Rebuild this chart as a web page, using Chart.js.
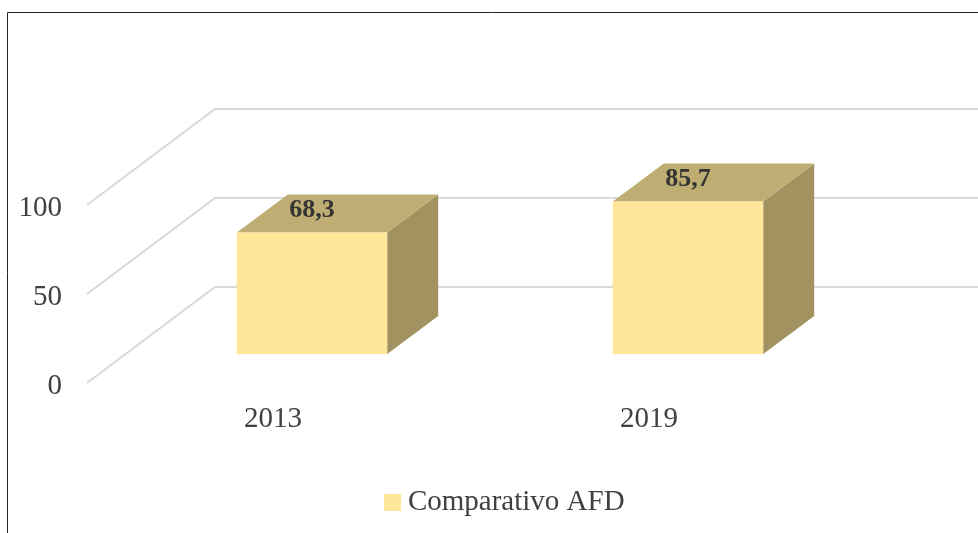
<!DOCTYPE html>
<html>
<head>
<meta charset="utf-8">
<style>
  html, body { margin: 0; padding: 0; background: #fff; overflow: hidden; }
  #wrap { position: absolute; left: 0; top: 0; width: 978px; height: 533px; }
</style>
<script src="https://cdn.jsdelivr.net/npm/chart.js@4/dist/chart.umd.min.js"></script>
</head>
<body>
<div id="wrap"><canvas id="chart" width="978" height="533"></canvas></div>
<script>
const categories = ["2013", "2019"];
const seriesName = "Comparativo AFD";
const afdValues = [68.3, 85.7];
const gridValues = [0, 50, 100];

const FONT = '"Liberation Serif", "Times New Roman", serif';
const FRONT = "#FFE699";
const TOP = "#BFAE73";
const SIDE = "#A2925F";
const GRID = "#D9D9D9";

// depth of the fake 3D box, and of the floor in front of the bars
const barDx = 51, barDy = -38;
const frontDx = -37, frontDy = 29;
const backDx = 91, backDy = -67;

// legend swatch as an image, so the gap to the text can be tight like the picture
const swatch = document.createElement("canvas");
swatch.width = 17;
swatch.height = 17;
const swatchCtx = swatch.getContext("2d");
swatchCtx.fillStyle = FRONT;
swatchCtx.fillRect(0, 0, 17, 17);

const threeD = {
  id: "threeD",
  afterLayout(chart) {
    // the legend is not centred on the canvas in the picture
    const legend = chart.legend;
    legend.left = 39;
    legend.right = 978;
    legend.top = 479.5;
  },
  beforeDatasetsDraw(chart) {
    const { ctx, scales: { y } } = chart;
    ctx.save();
    ctx.strokeStyle = GRID;
    ctx.lineWidth = 2;
    gridValues.forEach(v => {
      const py = y.getPixelForValue(v);
      const x0 = chart.chartArea.left;
      ctx.beginPath();
      ctx.moveTo(x0 + frontDx, py + frontDy);
      ctx.lineTo(x0 + backDx, py + backDy);
      ctx.lineTo(chart.width, py + backDy);
      ctx.stroke();
    });
    // side and top faces
    chart.getDatasetMeta(0).data.forEach(bar => {
      const l = bar.x - bar.width / 2, r = bar.x + bar.width / 2;
      ctx.fillStyle = SIDE;
      ctx.beginPath();
      ctx.moveTo(r, bar.y);
      ctx.lineTo(r + barDx, bar.y + barDy);
      ctx.lineTo(r + barDx, bar.base + barDy);
      ctx.lineTo(r, bar.base);
      ctx.closePath();
      ctx.fill();
      ctx.fillStyle = TOP;
      ctx.beginPath();
      ctx.moveTo(l, bar.y);
      ctx.lineTo(l + barDx, bar.y + barDy);
      ctx.lineTo(r + barDx, bar.y + barDy);
      ctx.lineTo(r, bar.y);
      ctx.closePath();
      ctx.fill();
    });
    ctx.restore();
  },
  afterDatasetsDraw(chart) {
    const { ctx } = chart;
    ctx.save();
    ctx.font = "bold 26px " + FONT;
    ctx.fillStyle = "#333333";
    ctx.textAlign = "center";
    ctx.textBaseline = "middle";
    chart.getDatasetMeta(0).data.forEach((bar, i) => {
      ctx.fillText(String(afdValues[i]).replace(".", ","), bar.x, bar.y - 22);
    });
    ctx.restore();
  },
  afterDraw(chart) {
    // outer frame, only top and left are visible in the picture
    const { ctx } = chart;
    ctx.save();
    ctx.strokeStyle = "#222";
    ctx.lineWidth = 1;
    ctx.beginPath();
    ctx.moveTo(7.5, chart.height);
    ctx.lineTo(7.5, 12.5);
    ctx.lineTo(chart.width, 12.5);
    ctx.stroke();
    ctx.restore();
  }
};

new Chart(document.getElementById("chart"), {
  type: "bar",
  data: {
    labels: categories,
    datasets: [{
      label: seriesName,
      data: afdValues,
      backgroundColor: FRONT,
      barPercentage: 0.4,
      categoryPercentage: 1
    }]
  },
  options: {
    responsive: false,
    animation: false,
    layout: { padding: { top: 176, right: 102, left: 0, bottom: 0 } },
    plugins: {
      tooltip: { enabled: false },
      legend: {
        position: "bottom",
        labels: {
          usePointStyle: true,
          pointStyle: swatch,
          pointStyleWidth: 1,
          padding: 8,
          color: "#404040",
          font: { family: FONT, size: 29 }
        }
      }
    },
    scales: {
      x: {
        grid: { display: false, drawTicks: false },
        border: { display: false },
        afterFit(axis) { axis.height = 179 - (axis.chart.legend ? axis.chart.legend.height : 0); },
        ticks: { padding: 48, labelOffset: -39, maxRotation: 0, color: "#404040", font: { family: FONT, size: 29 } }
      },
      y: {
        min: 0,
        max: 100,
        grid: { display: false, drawTicks: false },
        border: { display: false },
        afterBuildTicks(axis) { axis.ticks = gridValues.map(v => ({ value: v })); },
        afterFit(axis) { axis.width = 124; },
        ticks: { padding: 62, labelOffset: 32, color: "#404040", font: { family: FONT, size: 29 } }
      }
    }
  },
  plugins: [threeD]
});
</script>
</body>
</html>
